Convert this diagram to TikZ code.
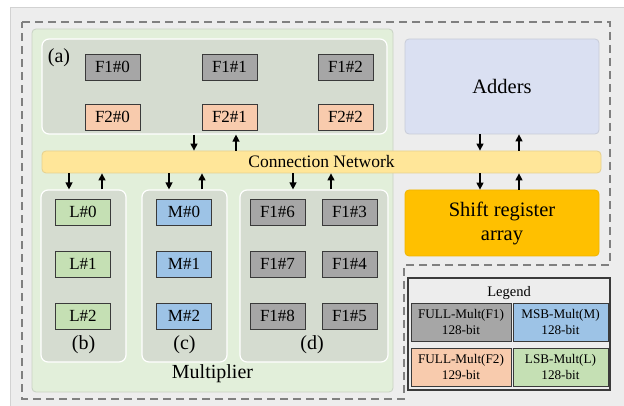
\documentclass[tikz,border=0pt]{standalone}
\usepackage{fontspec}
\setmainfont{Liberation Serif}
\usetikzlibrary{arrows.meta}

\definecolor{bgfill}{HTML}{EDEDED}
\definecolor{bgline}{HTML}{D2D2D2}
\definecolor{dashc}{HTML}{808080}
\definecolor{multfill}{HTML}{E2EFDA}
\definecolor{multline}{HTML}{C9D2C3}
\definecolor{panelfill}{HTML}{D5DCD0}
\definecolor{fonefill}{HTML}{A6A6A6}
\definecolor{ftwofill}{HTML}{F8CBAD}
\definecolor{lfill}{HTML}{C5E0B4}
\definecolor{mfill}{HTML}{9DC3E6}
\definecolor{netfill}{HTML}{FFE699}
\definecolor{netline}{HTML}{E6D08E}
\definecolor{addfill}{HTML}{DAE0F2}
\definecolor{addline}{HTML}{C8CCD8}
\definecolor{shiftfill}{HTML}{FFC000}
\definecolor{boxline}{HTML}{3A3A3A}

\begin{document}
\begin{tikzpicture}[x=1pt,y=-1pt,
  unitbox/.style={draw=boxline, line width=0.9pt, minimum width=55pt,
    minimum height=26pt, inner sep=0pt, font=\fontsize{17}{20}\selectfont},
  fone/.style={unitbox, fill=fonefill},
  ftwo/.style={unitbox, fill=ftwofill},
  lmul/.style={unitbox, fill=lfill},
  mmul/.style={unitbox, fill=mfill},
  panel/.style={draw=white, line width=1.2pt, rounded corners=7pt,
    fill=panelfill, inner sep=0pt},
  bigbox/.style={rounded corners=4pt, inner sep=0pt, line width=0.8pt},
  biglabel/.style={font=\fontsize{20}{24}\selectfont, inner sep=0pt},
  legcell/.style={draw=boxline, line width=0.9pt, minimum width=100pt,
    minimum height=38pt, inner sep=0pt, align=center,
    font=\fontsize{13.2}{16.5}\selectfont},
  arr/.style={-{Triangle[length=7pt,width=7pt]}, line width=1.3pt},
]
\useasboundingbox (0,0) rectangle (624,406);

% backdrop
\fill[bgfill] (10,7) rectangle (624,406);
\draw[bgline, line width=0.8pt] (10,406) -- (10,7) -- (624,7);

% dashed outline of the whole unit
\draw[dashc, line width=1.3pt, dash pattern=on 8pt off 5pt]
  (22,22) -- (610,22) -- (610,265) -- (404,265) -- (404,399) -- (22,399) -- cycle;

% multiplier area
\node[bigbox, draw=multline, fill=multfill, minimum width=361pt,
  minimum height=363pt] (mult) at (212.5,210.5) {};
\node[biglabel] (multlbl) at (212.5,374) {Multiplier};

% panels
\node[panel, minimum width=345pt, minimum height=95pt] (pa) at (214.5,86.5) {};
\node[panel, minimum width=85pt, minimum height=172pt] (pb) at (83.5,276) {};
\node[panel, minimum width=85pt, minimum height=172pt] (pc) at (184.5,276) {};
\node[panel, minimum width=148pt, minimum height=172pt] (pd) at (314,276) {};

\node[biglabel] (la) at (59,58) {(a)};
\node[biglabel] (lb) at (83.5,345) {(b)};
\node[biglabel] (lc) at (184.5,345) {(c)};
\node[biglabel] (ld) at (312,345) {(d)};

% panel (a)
\node[fone] (f10) at (112.5,67) {F1\#0};
\node[fone] (f11) at (229.5,67) {F1\#1};
\node[fone] (f12) at (345.5,67) {F1\#2};
\node[ftwo] (f20) at (112.5,117) {F2\#0};
\node[ftwo] (f21) at (229.5,117) {F2\#1};
\node[ftwo] (f22) at (345.5,117) {F2\#2};

% panel (b)
\node[lmul] (l0) at (83,212) {L\#0};
\node[lmul] (l1) at (83,264) {L\#1};
\node[lmul] (l2) at (83,316) {L\#2};

% panel (c)
\node[mmul] (m0) at (184,212) {M\#0};
\node[mmul] (m1) at (184,264) {M\#1};
\node[mmul] (m2) at (184,316) {M\#2};

% panel (d)
\node[fone] (f16) at (277.5,212) {F1\#6};
\node[fone] (f17) at (277.5,264) {F1\#7};
\node[fone] (f18) at (277.5,316) {F1\#8};
\node[fone] (f13) at (349.5,212) {F1\#3};
\node[fone] (f14) at (349.5,264) {F1\#4};
\node[fone] (f15) at (349.5,316) {F1\#5};

% connection network
\node[draw=netline, fill=netfill, line width=0.8pt, rounded corners=4pt,
  minimum width=559pt, minimum height=22pt, inner sep=0pt,
  font=\fontsize{17.5}{20}\selectfont] (net) at (321.5,162) {Connection Network};

% adders and shift registers
\node[bigbox, draw=addline, fill=addfill, minimum width=194pt,
  minimum height=95pt, font=\fontsize{20.5}{24}\selectfont] (add) at (502,86.5) {Adders};
\node[bigbox, draw=shiftfill!85!black!40!shiftfill, fill=shiftfill, minimum width=194pt,
  minimum height=66pt, align=center,
  font=\fontsize{20.5}{24}\selectfont] (shift) at (502,223) {Shift register\\array};

% arrow columns
\coordinate (xa1) at (194,0);
\coordinate (xa2) at (236,0);
\coordinate (xb1) at (69,0);
\coordinate (xb2) at (102,0);
\coordinate (xc1) at (169,0);
\coordinate (xc2) at (202,0);
\coordinate (xd1) at (293,0);
\coordinate (xd2) at (331,0);
\coordinate (xs1) at (480,0);
\coordinate (xs2) at (519,0);

\draw[arr] (xa1 |- pa.south) -- (xa1 |- net.north);
\draw[arr] (xa2 |- net.north) -- (xa2 |- pa.south);
\draw[arr] (xs1 |- add.south) -- (xs1 |- net.north);
\draw[arr] (xs2 |- net.north) -- (xs2 |- add.south);

\draw[arr] (xb1 |- net.south) -- (xb1 |- pb.north);
\draw[arr] (xb2 |- pb.north) -- (xb2 |- net.south);
\draw[arr] (xc1 |- net.south) -- (xc1 |- pc.north);
\draw[arr] (xc2 |- pc.north) -- (xc2 |- net.south);
\draw[arr] (xd1 |- net.south) -- (xd1 |- pd.north);
\draw[arr] (xd2 |- pd.north) -- (xd2 |- net.south);
\draw[arr] (xs1 |- net.south) -- (xs1 |- shift.north);
\draw[arr] (xs2 |- shift.north) -- (xs2 |- net.south);

% legend
\node[draw=boxline, line width=1.2pt, fill=bgfill, minimum width=202pt,
  minimum height=112pt, inner sep=0pt] (leg) at (509,334) {};
\node[font=\fontsize{14.5}{17}\selectfont, inner sep=0pt] (legt) at (509,293) {Legend};
\node[legcell, fill=fonefill] (kf1) at (461,322) {FULL-Mult(F1)\\128-bit};
\node[legcell, fill=mfill, minimum width=95pt] (km) at (560.5,322) {MSB-Mult(M)\\128-bit};
\node[legcell, fill=ftwofill] (kf2) at (461,367) {FULL-Mult(F2)\\129-bit};
\node[legcell, fill=lfill, minimum width=95pt] (kl) at (560.5,367) {LSB-Mult(L)\\128-bit};
\end{tikzpicture}
\end{document}
